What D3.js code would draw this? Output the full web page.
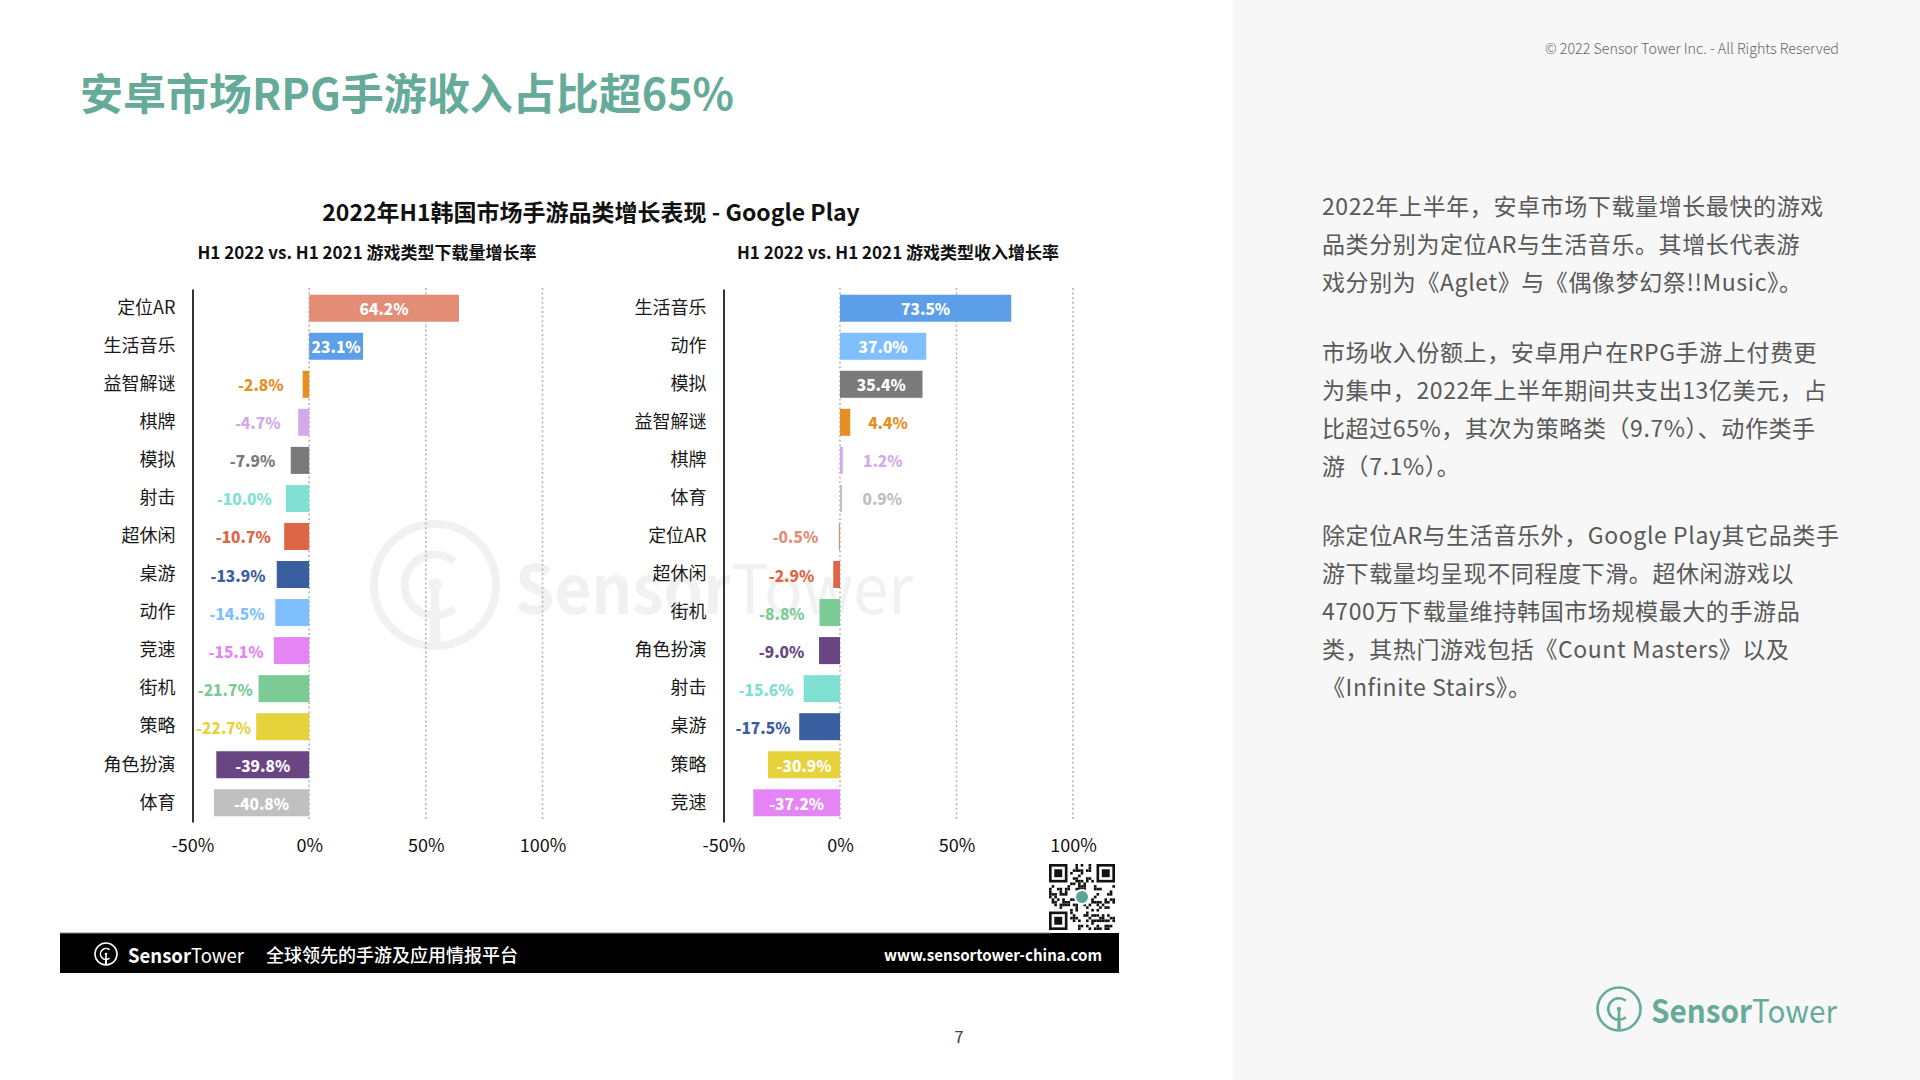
<!DOCTYPE html>
<meta charset="utf-8">
<html>
<head>
<script src="https://d3js.org/d3.v7.min.js"></script>
<style>
  body { margin: 0; background: #ffffff; }
  svg text { font-family: "Noto Sans CJK SC", "Noto Sans", sans-serif; }
</style>
</head>
<body>
<div id="slide"></div>
<script>

// ---- data ----
var dlCategories = ["定位AR", "生活音乐", "益智解谜", "棋牌", "模拟", "射击", "超休闲", "桌游", "动作", "竞速", "街机", "策略", "角色扮演", "体育"];
var dlValues = [64.2, 23.1, -2.8, -4.7, -7.9, -10.0, -10.7, -13.9, -14.5, -15.1, -21.7, -22.7, -39.8, -40.8];

var revCategories = ["生活音乐", "动作", "模拟", "益智解谜", "棋牌", "体育", "定位AR", "超休闲", "街机", "角色扮演", "射击", "桌游", "策略", "竞速"];
var revValues = [73.5, 37.0, 35.4, 4.4, 1.2, 0.9, -0.5, -2.9, -8.8, -9.0, -15.6, -17.5, -30.9, -37.2];

var tickValues = [-50, 0, 50, 100];

var pageTitle = "安卓市场RPG手游收入占比超65%";
var chartTitle = "2022年H1韩国市场手游品类增长表现 - Google Play";
var leftSubtitle = "H1 2022 vs. H1 2021 游戏类型下载量增长率";
var rightSubtitle = "H1 2022 vs. H1 2021 游戏类型收入增长率";

var paragraphs = [
  ["2022年上半年，安卓市场下载量增长最快的游戏", "品类分别为定位AR与生活音乐。其增长代表游", "戏分别为《Aglet》与《偶像梦幻祭!!Music》。"],
  ["市场收入份额上，安卓用户在RPG手游上付费更", "为集中，2022年上半年期间共支出13亿美元，占", "比超过65%，其次为策略类（9.7%）、动作类手", "游（7.1%）。"],
  ["除定位AR与生活音乐外，Google Play其它品类手", "游下载量均呈现不同程度下滑。超休闲游戏以", "4700万下载量维持韩国市场规模最大的手游品", "类，其热门游戏包括《Count Masters》以及", "《Infinite Stairs》。"]
];

// colour per category (same in both charts)
var color = d3.scaleOrdinal()
  .domain(["定位AR", "生活音乐", "益智解谜", "棋牌", "模拟", "射击", "超休闲", "桌游", "动作", "竞速", "街机", "策略", "角色扮演", "体育"])
  .range(["#e38d76", "#5c9ee8", "#e68f22", "#d3aae8", "#7a7a7a", "#80e0d1", "#de6545", "#3a5fa0", "#80bffd", "#e585f5", "#7ccb95", "#e6d23a", "#6a4584", "#c0c0c0"]);

var teal = "#66ab9a";

var svg = d3.select("#slide")
  .append("svg")
    .attr("width", 1920)
    .attr("height", 1080);

// right grey panel
svg.append("rect")
  .attr("x", 1233).attr("y", 0)
  .attr("width", 687).attr("height", 1080)
  .attr("fill", "#f7f7f7");

// logo mark (circle, inner arc, stem, dot)
function drawLogo(g, cx, cy, r, stroke, col) {
  var lg = g.append("g").attr("transform", "translate(" + cx + "," + cy + ")");
  lg.append("circle").attr("r", r).attr("fill", "none").attr("stroke", col).attr("stroke-width", stroke);
  var arc = d3.arc().innerRadius(r * 0.5 - stroke / 2).outerRadius(r * 0.5 + stroke / 2)
    .startAngle(Math.PI * 0.78).endAngle(Math.PI * 2 + Math.PI * 0.22);
  lg.append("path").attr("d", arc()).attr("fill", col);
  lg.append("path")
    .attr("d", "M" + (-stroke * 0.45) + ",0 L" + (stroke * 0.45) + ",0 L" + (stroke * 0.7) + "," + (r - stroke / 2) + " L" + (-stroke * 0.7) + "," + (r - stroke / 2) + "Z")
    .attr("fill", col);
  lg.append("circle").attr("r", stroke * 0.85).attr("fill", col);
}

// watermark
var wm = svg.append("g");
drawLogo(wm, 435, 585, 61, 8, "#f1f1f1");
wm.append("text")
  .attr("x", 515).attr("y", 584)
  .attr("dominant-baseline", "central")
  .attr("font-size", 68)
  .attr("fill", "#f1f1f1")
  .attr("textLength", 398).attr("lengthAdjust", "spacingAndGlyphs")
  .call(function(t) {
    t.append("tspan").attr("font-weight", 700).text("Sensor");
    t.append("tspan").attr("font-weight", 400).text("Tower");
  });

// page title
svg.append("text")
  .attr("x", 80).attr("y", 91)
  .attr("dominant-baseline", "central")
  .attr("font-size", 43)
  .attr("font-weight", 700)
  .attr("fill", teal)
  .text(pageTitle);

// chart titles
svg.append("text")
  .attr("x", 591).attr("y", 211)
  .attr("text-anchor", "middle").attr("dominant-baseline", "central")
  .attr("font-size", 23).attr("font-weight", 700).attr("fill", "#111")
  .text(chartTitle);

svg.append("text")
  .attr("x", 367).attr("y", 251)
  .attr("text-anchor", "middle").attr("dominant-baseline", "central")
  .attr("font-size", 17).attr("font-weight", 700).attr("fill", "#111")
  .text(leftSubtitle);

svg.append("text")
  .attr("x", 898).attr("y", 251)
  .attr("text-anchor", "middle").attr("dominant-baseline", "central")
  .attr("font-size", 17).attr("font-weight", 700).attr("fill", "#111")
  .text(rightSubtitle);

// ---- bar charts ----
function drawChart(cats, vals, x0, x1) {
  var g = svg.append("g");
  var data = cats.map(function(c, i) { return {cat: c, v: vals[i]}; });

  var x = d3.scaleLinear().domain([-50, 100]).range([x0, x1]);
  var y = d3.scaleBand().domain(cats).range([289, 822]).paddingInner(0.29).paddingOuter(0.15);

  // dotted gridlines
  g.selectAll("line.grid")
    .data(tickValues.filter(function(d) { return d > -50; }))
    .enter().append("line")
    .attr("class", "grid")
    .attr("x1", function(d) { return x(d); })
    .attr("x2", function(d) { return x(d); })
    .attr("y1", 288).attr("y2", 819)
    .attr("stroke", "#b5b5b5")
    .attr("stroke-width", 1.6)
    .attr("stroke-dasharray", "2,2.6");

  // bars
  g.selectAll("rect.bar")
    .data(data)
    .enter().append("rect")
    .attr("class", "bar")
    .attr("x", function(d) { return x(Math.min(0, d.v)); })
    .attr("y", function(d) { return y(d.cat); })
    .attr("width", function(d) { return Math.abs(x(d.v) - x(0)); })
    .attr("height", y.bandwidth())
    .attr("fill", function(d) { return color(d.cat); });

  // value labels: white inside long bars, coloured outside short ones
  g.selectAll("text.val")
    .data(data)
    .enter().append("text")
    .attr("class", "val")
    .attr("font-size", 15.5)
    .attr("font-weight", 900)
    .attr("dominant-baseline", "central")
    .attr("y", function(d) { return y(d.cat) + y.bandwidth() / 2; })
    .each(function(d) {
      var t = d3.select(this);
      var inside = d.v >= 20 || d.v <= -25;
      var gap = Math.max(3, 21 - 0.7 * Math.abs(d.v));
      if (inside) {
        t.attr("x", (x(d.v) + x(0)) / 2).attr("text-anchor", "middle").attr("fill", "#fff");
      } else if (d.v >= 0) {
        t.attr("x", x(d.v) + gap).attr("text-anchor", "start").attr("fill", color(d.cat));
      } else {
        t.attr("x", x(d.v) - gap).attr("text-anchor", "end").attr("fill", color(d.cat));
      }
    })
    .text(function(d) { return d.v.toFixed(1) + "%"; });

  // category axis
  var yAxis = g.append("g")
    .attr("transform", "translate(" + x(-50) + ",0)")
    .call(d3.axisLeft(y).tickSize(0).tickPadding(17));
  yAxis.select(".domain").attr("stroke", "#000").attr("stroke-width", 1.6);
  yAxis.selectAll("text")
    .attr("font-size", 18)
    .attr("fill", "#1a1a1a")
    .attr("font-family", "Noto Sans CJK SC");

  // value axis (labels only)
  var xAxis = g.append("g")
    .attr("transform", "translate(0,839)")
    .call(d3.axisBottom(x).tickValues(tickValues).tickSize(0).tickPadding(0)
      .tickFormat(function(d) { return d + "%"; }));
  xAxis.select(".domain").remove();
  xAxis.selectAll("text")
    .attr("font-size", 18)
    .attr("fill", "#111")
    .attr("font-family", "Noto Sans CJK SC");
}

drawChart(dlCategories, dlValues, 192.5, 542.5);
drawChart(revCategories, revValues, 723.5, 1073);

// ---- QR-like badge ----
var qr = svg.append("g").attr("transform", "translate(1049,864)");
qr.append("rect").attr("width", 66).attr("height", 66).attr("fill", "#fff");
var cell = 66 / 25;
for (var i = 0; i < 25; i++) {
  for (var j = 0; j < 25; j++) {
    var inFinder = (i < 8 && j < 8) || (i < 8 && j > 16) || (i > 16 && j < 8);
    if (inFinder) continue;
    if (((i * 7 + j * 13) ^ (i * j + 3)) % 3 === 0) {
      qr.append("rect").attr("x", j * cell).attr("y", i * cell)
        .attr("width", cell).attr("height", cell).attr("fill", "#111");
    }
  }
}
[[0, 0], [0, 18], [18, 0]].forEach(function(p) {
  qr.append("rect").attr("x", p[1] * cell + cell / 2).attr("y", p[0] * cell + cell / 2)
    .attr("width", cell * 6).attr("height", cell * 6)
    .attr("fill", "none").attr("stroke", "#111").attr("stroke-width", cell);
  qr.append("rect").attr("x", p[1] * cell + cell * 2).attr("y", p[0] * cell + cell * 2)
    .attr("width", cell * 3).attr("height", cell * 3).attr("fill", "#111");
});
qr.append("circle").attr("cx", 33).attr("cy", 33).attr("r", 8).attr("fill", "#fff");
qr.append("circle").attr("cx", 33).attr("cy", 33).attr("r", 6).attr("fill", "#5aa597");

// ---- footer bar ----
svg.append("rect")
  .attr("x", 60).attr("y", 933)
  .attr("width", 1059).attr("height", 40)
  .attr("fill", "#000");
svg.append("line")
  .attr("x1", 60).attr("x2", 1050).attr("y1", 933).attr("y2", 933)
  .attr("stroke", "#8a8a8a").attr("stroke-width", 1);

drawLogo(svg, 106, 954, 11, 1.6, "#fff");
svg.append("text")
  .attr("x", 128).attr("y", 954)
  .attr("dominant-baseline", "central")
  .attr("font-size", 20).attr("fill", "#fff")
  .attr("textLength", 116).attr("lengthAdjust", "spacingAndGlyphs")
  .call(function(t) {
    t.append("tspan").attr("font-weight", 700).text("Sensor");
    t.append("tspan").attr("font-weight", 400).text("Tower");
  });
svg.append("text")
  .attr("x", 266).attr("y", 954)
  .attr("dominant-baseline", "central")
  .attr("font-size", 18).attr("font-weight", 500).attr("fill", "#fff")
  .text("全球领先的手游及应用情报平台");
svg.append("text")
  .attr("x", 1102).attr("y", 954)
  .attr("text-anchor", "end").attr("dominant-baseline", "central")
  .attr("font-size", 16).attr("font-weight", 600).attr("fill", "#fff")
  .attr("textLength", 218).attr("lengthAdjust", "spacingAndGlyphs")
  .text("www.sensortower-china.com");

// page number
svg.append("text")
  .attr("x", 959).attr("y", 1035)
  .attr("text-anchor", "middle").attr("dominant-baseline", "central")
  .attr("font-size", 17).attr("fill", "#444")
  .text("7");

// ---- right panel ----
svg.append("text")
  .attr("x", 1839).attr("y", 47)
  .attr("text-anchor", "end").attr("dominant-baseline", "central")
  .attr("font-size", 15).attr("font-weight", 300).attr("fill", "#666")
  .attr("textLength", 294).attr("lengthAdjust", "spacingAndGlyphs")
  .text("© 2022 Sensor Tower Inc. - All Rights Reserved");

var lineY = 205;
paragraphs.forEach(function(par) {
  par.forEach(function(line) {
    svg.append("text")
      .attr("x", 1322).attr("y", lineY)
      .attr("dominant-baseline", "central")
      .attr("font-size", 23).attr("letter-spacing", 0.6).attr("fill", "#595959")
      .text(line);
    lineY += 38;
  });
  lineY += 31.5;
});

drawLogo(svg, 1619, 1009, 21.5, 2.6, teal);
svg.append("text")
  .attr("x", 1651).attr("y", 1009)
  .attr("dominant-baseline", "central")
  .attr("font-size", 32).attr("fill", teal)
  .attr("textLength", 186).attr("lengthAdjust", "spacingAndGlyphs")
  .call(function(t) {
    t.append("tspan").attr("font-weight", 700).text("Sensor");
    t.append("tspan").attr("font-weight", 400).text("Tower");
  });

</script>
</body>
</html>
